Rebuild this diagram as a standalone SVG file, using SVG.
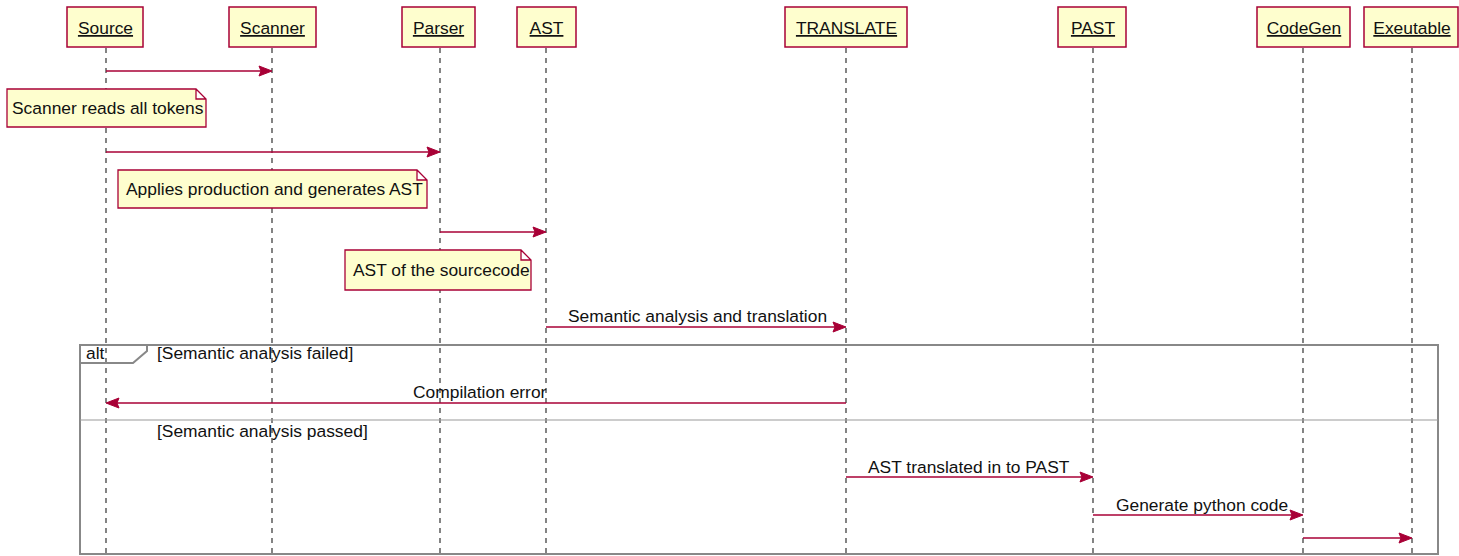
<svg xmlns="http://www.w3.org/2000/svg" width="1459" height="556" viewBox="0 0 1459 556">
<style>
text{font-family:"Liberation Sans",Arial,sans-serif;font-size:17.4px;fill:#111}
.p rect{fill:#FEFECE;stroke:#A80036;stroke-width:1.5}
.p text{text-anchor:middle;text-decoration:underline}
.life{stroke:#333;stroke-width:1.2;stroke-dasharray:5,5;fill:none}
.msg{stroke:#A80036;stroke-width:1.3;fill:none}
.head{fill:#A80036;stroke:#A80036;stroke-width:1}
.note path{fill:#FEFECE;stroke:#A80036;stroke-width:1.3}
.frame{fill:none;stroke:#888;stroke-width:2}
</style>
<rect width="1459" height="556" fill="#fff"/>
<g id="lifelines">
<line class="life" x1="106" y1="48" x2="106" y2="556"/>
<line class="life" x1="272" y1="48" x2="272" y2="556"/>
<line class="life" x1="440" y1="48" x2="440" y2="556"/>
<line class="life" x1="546" y1="48" x2="546" y2="556"/>
<line class="life" x1="846" y1="48" x2="846" y2="556"/>
<line class="life" x1="1093" y1="48" x2="1093" y2="556"/>
<line class="life" x1="1303" y1="48" x2="1303" y2="556"/>
<line class="life" x1="1412" y1="48" x2="1412" y2="556"/>
</g>
<g id="p-source" class="p"><rect x="67" y="7" width="76" height="40"/><text x="105.5" y="34">Source</text></g>
<g id="p-scanner" class="p"><rect x="229" y="7" width="87" height="40"/><text x="272.5" y="34">Scanner</text></g>
<g id="p-parser" class="p"><rect x="402" y="7" width="73" height="40"/><text x="438.5" y="34">Parser</text></g>
<g id="p-ast" class="p"><rect x="517" y="7" width="59" height="40"/><text x="546.5" y="34">AST</text></g>
<g id="p-translate" class="p"><rect x="785" y="7" width="122" height="40"/><text x="846.5" y="34">TRANSLATE</text></g>
<g id="p-past" class="p"><rect x="1058" y="7" width="68" height="40"/><text x="1093" y="34">PAST</text></g>
<g id="p-codegen" class="p"><rect x="1257" y="7" width="93" height="40"/><text x="1304" y="34">CodeGen</text></g>
<g id="p-exeutable" class="p"><rect x="1364" y="7" width="94" height="40"/><text x="1412" y="34">Exeutable</text></g>
<g id="frame">
<rect class="frame" x="80" y="345" width="1358" height="209"/>
<path class="frame" d="M80,363 H133 L147,351 V345"/>
<text x="86" y="359">alt</text>
<text x="157" y="359">[Semantic analysis failed]</text>
<line x1="80" y1="420" x2="1438" y2="420" stroke="#999" stroke-width="1.2"/>
<text x="157" y="437">[Semantic analysis passed]</text>
</g>
<g id="notes">
<g id="n1" class="note"><path d="M7,89 H196 L206,99 V127 H7 Z M196,89 V99 H206"/><text x="12" y="114">Scanner reads all tokens</text></g>
<g id="n2" class="note"><path d="M118,170 H417 L427,180 V208 H118 Z M417,170 V180 H427"/><text x="126" y="195">Applies production and generates AST</text></g>
<g id="n3" class="note"><path d="M345,250 H521 L531,260 V290 H345 Z M521,250 V260 H531"/><text x="353" y="276">AST of the sourcecode</text></g>
</g>
<g id="connectors">
<line class="msg" x1="106" y1="71" x2="266" y2="71"/><polygon class="head" points="272,71 259,66 261,71 259,76"/>
<line class="msg" x1="106" y1="152" x2="434" y2="152"/><polygon class="head" points="440,152 427,147 429,152 427,157"/>
<line class="msg" x1="440" y1="232" x2="540" y2="232"/><polygon class="head" points="546,232 533,227 535,232 533,237"/>
<line class="msg" x1="546" y1="327" x2="840" y2="327"/><polygon class="head" points="846,327 833,322 835,327 833,332"/>
<text x="568" y="322">Semantic analysis and translation</text>
<line class="msg" x1="846" y1="403" x2="112" y2="403"/><polygon class="head" points="106,403 119,398 117,403 119,408"/>
<text x="413" y="398">Compilation error</text>
<line class="msg" x1="846" y1="477" x2="1087" y2="477"/><polygon class="head" points="1093,477 1080,472 1082,477 1080,482"/>
<text x="868" y="473">AST translated in to PAST</text>
<line class="msg" x1="1093" y1="515" x2="1297" y2="515"/><polygon class="head" points="1303,515 1290,510 1292,515 1290,520"/>
<text x="1116" y="511">Generate python code</text>
<line class="msg" x1="1303" y1="538" x2="1406" y2="538"/><polygon class="head" points="1412,538 1399,533 1401,538 1399,543"/>
</g>
</svg>
